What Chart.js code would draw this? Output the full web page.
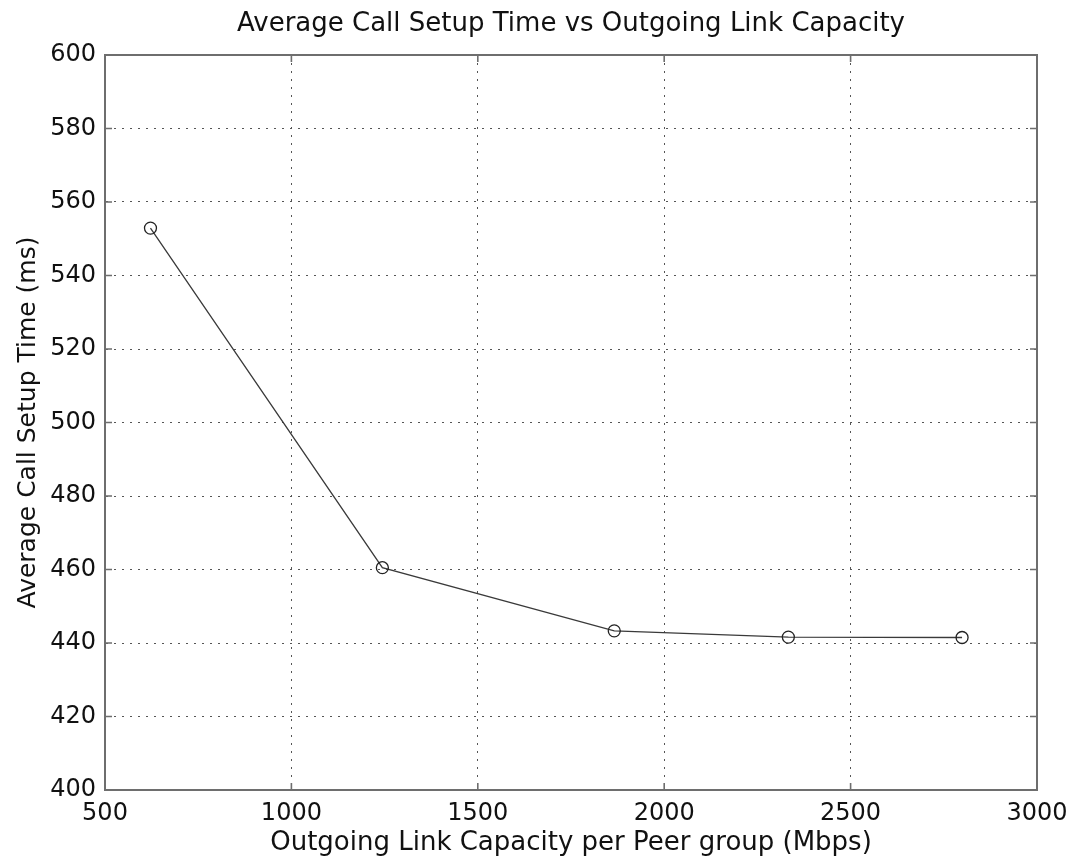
<!DOCTYPE html>
<html>
<head>
<meta charset="utf-8">
<script src="https://cdn.jsdelivr.net/npm/chart.js@4/dist/chart.umd.min.js"></script>
<style>
html,body{margin:0;padding:0;background:#fff;}
canvas{display:block;}
</style>
</head>
<body>
<canvas id="c" width="1074" height="863"></canvas>
<script>
// Data
const capacityMbps = [622, 1244, 1866, 2333, 2799];
const setupTimeMs = [552.9, 460.5, 443.3, 441.6, 441.5];

const chartTitle = 'Average Call Setup Time vs Outgoing Link Capacity';
const xTitle = 'Outgoing Link Capacity per Peer group (Mbps)';
const yTitle = 'Average Call Setup Time (ms)';
const xMin = 500, xMax = 3000, xStep = 500;
const yMin = 400, yMax = 600, yStep = 20;

const FONT = "'DejaVu Sans', sans-serif";
const points = capacityMbps.map((x, i) => ({x: x, y: setupTimeMs[i]}));

// Draw the full box and inward tick marks (MATLAB style)
const boxPlugin = {
  id: 'box',
  afterDraw(chart) {
    const {ctx, chartArea: a, scales} = chart;
    ctx.save();
    ctx.strokeStyle = '#6e6e6e';
    ctx.lineWidth = 1.6;
    const tl = 7;
    ctx.beginPath();
    scales.x.ticks.forEach(t => {
      const px = scales.x.getPixelForValue(t.value);
      ctx.moveTo(px, a.bottom); ctx.lineTo(px, a.bottom - tl);
      ctx.moveTo(px, a.top); ctx.lineTo(px, a.top + tl);
    });
    scales.y.ticks.forEach(t => {
      const py = scales.y.getPixelForValue(t.value);
      ctx.moveTo(a.left, py); ctx.lineTo(a.left + tl, py);
      ctx.moveTo(a.right, py); ctx.lineTo(a.right - tl, py);
    });
    ctx.stroke();
    ctx.lineWidth = 2;
    ctx.strokeRect(a.left, a.top, a.right - a.left, a.bottom - a.top);
    ctx.restore();
  }
};

new Chart(document.getElementById('c'), {
  type: 'scatter',
  data: {
    datasets: [{
      data: points,
      showLine: true,
      borderColor: '#3a3a3a',
      borderWidth: 1.3,
      pointStyle: 'circle',
      pointRadius: 6,
      pointBorderWidth: 1.3,
      pointBorderColor: '#222',
      pointBackgroundColor: 'rgba(0,0,0,0)',
      tension: 0
    }]
  },
  options: {
    responsive: false,
    animation: false,
    events: [],
    layout: {padding: {left: 0, right: 37, top: 0, bottom: 0}},
    plugins: {
      legend: {display: false},
      tooltip: {enabled: false},
      title: {
        display: true,
        fullSize: false,
        text: chartTitle,
        color: '#111',
        font: {family: FONT, size: 26, weight: 'normal', lineHeight: 1.2},
        padding: {top: 9, bottom: 14.8}
      }
    },
    scales: {
      x: {
        type: 'linear',
        min: xMin, max: xMax,
        afterFit(s) { s.height = 73; s.paddingRight = 0; s.paddingLeft = 0; },
        ticks: {
          stepSize: xStep,
          color: '#111',
          font: {family: FONT, size: 24},
          padding: 9,
          maxRotation: 0,
          callback: v => String(v)
        },
        grid: {
          color: '#555',
          lineWidth: 1,
          drawTicks: false
        },
        border: {display: true, color: '#6e6e6e', width: 2, dash: [2, 6]},
        title: {
          display: true,
          text: xTitle,
          color: '#111',
          font: {family: FONT, size: 26, lineHeight: 1.2},
          padding: {top: 0, bottom: 4}
        }
      },
      y: {
        type: 'linear',
        min: yMin, max: yMax,
        afterFit(s) { s.width = 105; },
        ticks: {
          stepSize: yStep,
          color: '#111',
          font: {family: FONT, size: 24},
          padding: 9,
          callback: v => String(v)
        },
        grid: {
          color: '#555',
          lineWidth: 1,
          drawTicks: false
        },
        border: {display: true, color: '#6e6e6e', width: 2, dash: [2, 6]},
        title: {
          display: true,
          text: yTitle,
          color: '#111',
          font: {family: FONT, size: 25, lineHeight: 1.2},
          padding: {top: 13, bottom: 0}
        }
      }
    }
  },
  plugins: [boxPlugin]
});
</script>
</body>
</html>
